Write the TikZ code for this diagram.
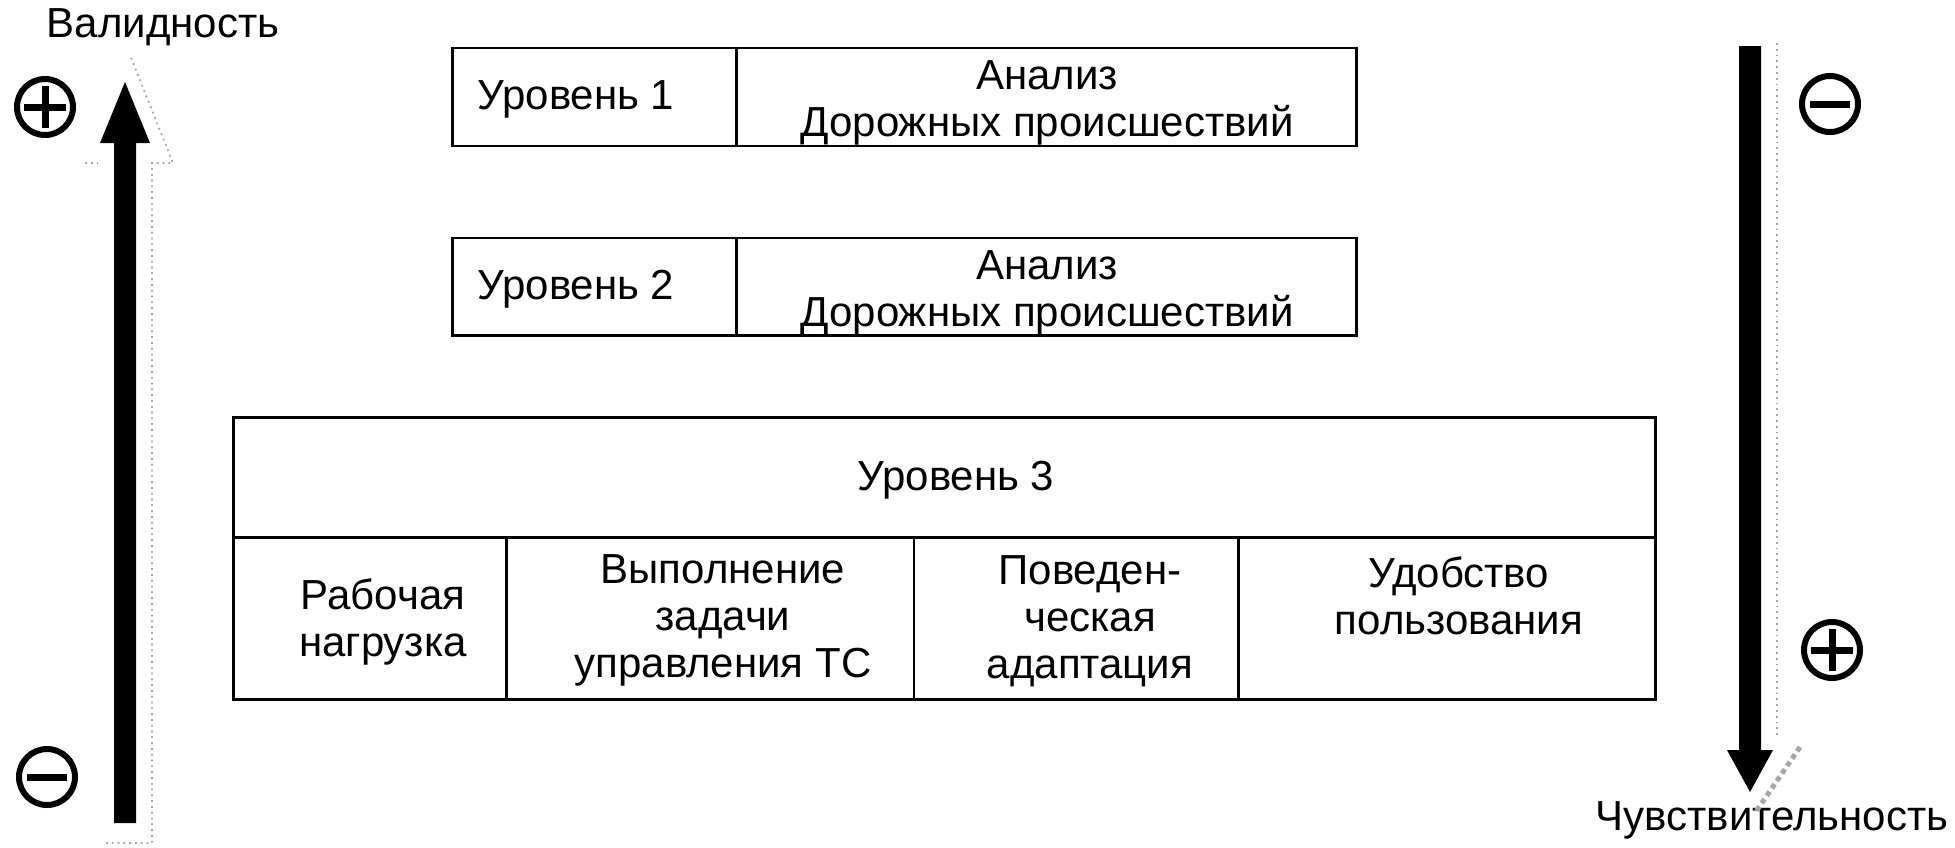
\documentclass[tikz,border=0pt]{standalone}
\usepackage{fontspec}
\setmainfont{Liberation Sans}
\begin{document}
\begin{tikzpicture}[x=0.5pt,y=-0.5pt,
  lbl/.style={inner sep=0pt, align=center, font=\fontsize{21}{23.5}\selectfont},
  boxline/.style={line width=1.4pt},
  sign/.style={circle, draw, line width=3pt, minimum size=28pt, inner sep=0pt},
  signbar/.style={line width=3.5pt},
  bigarrow/.style={fill=black},
  shadow/.style={draw=gray!70, dotted, line width=0.9pt}]
\useasboundingbox (0,0) rectangle (1955,847);
\fill[white] (0,0) rectangle (1955,847);

% boxes
\node[boxline, draw, minimum width=452pt, minimum height=49pt, inner sep=0pt] (b1) at (904.5,97) {};
\node[boxline, draw, minimum width=452pt, minimum height=48.7pt, inner sep=0pt] (b2) at (904.5,286.7) {};
\node[boxline, draw, minimum width=711.3pt, minimum height=140.9pt, inner sep=0pt] (b3) at (944.4,558.6) {};
\coordinate (d1t) at (736.5,47.5); \coordinate (d1b) at (736.5,146.5);
\coordinate (d2t) at (736.5,238); \coordinate (d2b) at (736.5,335.4);
\draw[boxline] (d1t) -- (d1b);
\draw[boxline] (d2t) -- (d2b);
\coordinate (hL) at (233,537.4); \coordinate (hR) at (1655.7,537.4);
\draw[boxline] (hL) -- (hR);
\foreach \xx/\nm in {506.2/c1, 913.9/c2, 1238.1/c3}{
  \coordinate (\nm t) at (\xx,537.4); \coordinate (\nm b) at (\xx,699.5);
  \draw[boxline] (\nm t) -- (\nm b);
}

% texts
\node[lbl] (t1) at (576,99) {Уровень 1};
\node[lbl] (a1) at (1047,103) {Анализ\\Дорожных происшествий};
\node[lbl] (t2) at (576,289) {Уровень 2};
\node[lbl] (a2) at (1047,293) {Анализ\\Дорожных происшествий};
\node[lbl] (t3) at (956,480) {Уровень 3};
\node[lbl] (s1) at (383,622) {Рабочая\\нагрузка};
\node[lbl] (s2) at (723,620) {Выполнение\\задачи\\управления ТС};
\node[lbl] (s3) at (1090,621) {Поведен-\\ческая\\адаптация};
\node[lbl] (s4) at (1459,596) {Удобство\\пользования};
\node[lbl, anchor=base] (val) at (163,37) {Валидность};
\node[lbl, anchor=base] (chu) at (1772,830) {Чувствительность};

% left arrow
\coordinate (la1) at (114,823); \coordinate (la2) at (114,143);
\coordinate (la3) at (100,143); \coordinate (la4) at (125,82);
\coordinate (la5) at (150,143); \coordinate (la6) at (136,143);
\coordinate (la7) at (136,823);
\fill[bigarrow] (la1) -- (la2) -- (la3) -- (la4) -- (la5) -- (la6) -- (la7) -- cycle;
\coordinate (ls1) at (106,843); \coordinate (ls2) at (152,843);
\coordinate (ls3) at (152,163); \coordinate (ls4) at (173,163);
\coordinate (ls5) at (130,55);
\draw[shadow] (ls1) -- (ls2) -- (ls3) -- (ls4) -- (ls5);
\coordinate (ls6) at (85,163); \coordinate (ls7) at (100,163);
\draw[shadow] (ls6) -- (ls7);

% right arrow
\coordinate (ra1) at (1739,46); \coordinate (ra2) at (1739,750);
\coordinate (ra3) at (1727,750); \coordinate (ra4) at (1750,792);
\coordinate (ra5) at (1773,750); \coordinate (ra6) at (1761,750);
\coordinate (ra7) at (1761,46);
\fill[bigarrow] (ra1) -- (ra2) -- (ra3) -- (ra4) -- (ra5) -- (ra6) -- (ra7) -- cycle;
\coordinate (rs1) at (1777,43); \coordinate (rs2) at (1777,737);
\coordinate (rs3) at (1800,747); \coordinate (rs4) at (1755,813);
\draw[shadow] (rs1) -- (rs2);
\draw[shadow, line width=2.5pt] (rs3) -- (rs4);

% signs
\node[sign] (pL) at (45,107) {};
\draw[signbar] ([xshift=-10.5pt]pL.center) -- ([xshift=10.5pt]pL.center);
\draw[signbar] ([yshift=-10.5pt]pL.center) -- ([yshift=10.5pt]pL.center);
\node[sign] (mL) at (47,777) {};
\draw[signbar] ([xshift=-10pt]mL.center) -- ([xshift=10pt]mL.center);
\node[sign] (mR) at (1830,104) {};
\draw[signbar] ([xshift=-10pt]mR.center) -- ([xshift=10pt]mR.center);
\node[sign] (pR) at (1832,650) {};
\draw[signbar] ([xshift=-10.5pt]pR.center) -- ([xshift=10.5pt]pR.center);
\draw[signbar] ([yshift=-10.5pt]pR.center) -- ([yshift=10.5pt]pR.center);
\end{tikzpicture}
\end{document}
